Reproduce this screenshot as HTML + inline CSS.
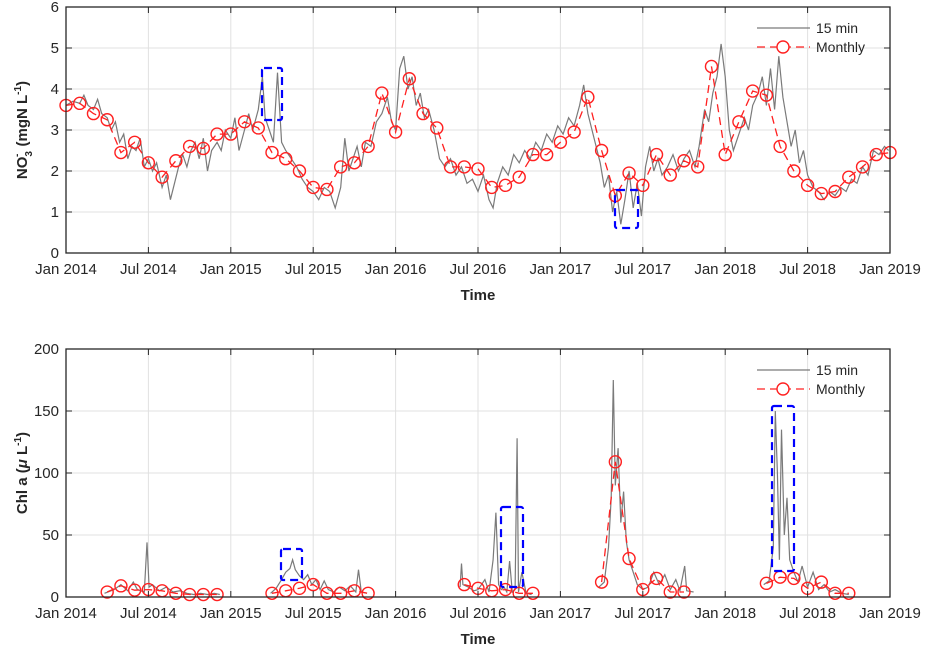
<!DOCTYPE html>
<html><head><meta charset="utf-8"><style>
body{margin:0;background:#fff;}
svg{display:block;font-family:"Liberation Sans",Arial,sans-serif;}
</style></head><body>
<svg id="fig" width="928" height="647" xmlns="http://www.w3.org/2000/svg"></svg>
<script>
// ---- data ----
const xTickLabels = ["Jan 2014","Jul 2014","Jan 2015","Jul 2015","Jan 2016","Jul 2016","Jan 2017","Jul 2017","Jan 2018","Jul 2018","Jan 2019"];
const xTickMonths = [0,6,12,18,24,30,36,42,48,54,60];
const no3Ticks = [0,1,2,3,4,5,6];
const chlTicks = [0,50,100,150,200];
// NO3 monthly, month index 0..60
const no3Monthly = [3.6,3.65,3.4,3.25,2.45,2.7,2.2,1.85,2.25,2.6,2.55,2.9,2.9,3.2,3.05,2.45,2.3,2.0,1.6,1.55,2.1,2.2,2.6,3.9,2.95,4.25,3.4,3.05,2.1,2.1,2.05,1.6,1.65,1.85,2.4,2.4,2.7,2.95,3.8,2.5,1.4,1.95,1.65,2.4,1.9,2.25,2.1,4.55,2.4,3.2,3.95,3.85,2.6,2.0,1.65,1.45,1.5,1.85,2.1,2.4,2.45];
// NO3 15-min (month, value) samples
const no3HfMonths = [0,0.5,1,1.3,1.6,2,2.3,2.6,3,3.3,3.6,3.9,4.2,4.5,4.8,5.1,5.4,5.7,6,6.3,6.6,7,7.3,7.6,7.9,8.2,8.5,8.8,9.1,9.4,9.7,10,10.3,10.6,11,11.3,11.6,12,12.3,12.6,13,13.3,13.6,14,14.3,14.5,14.8,15.1,15.4,15.7,16,16.4,16.8,17.2,17.6,18,18.4,18.8,19.2,19.6,20,20.3,20.6,20.9,21.2,21.5,21.8,22.2,22.6,23,23.4,23.7,24,24.3,24.6,24.9,25.2,25.5,25.8,26.1,26.4,26.8,27.2,27.6,28,28.4,28.8,29.2,29.6,30,30.4,30.8,31.1,31.4,31.8,32.2,32.6,33,33.4,33.8,34.2,34.6,35,35.4,35.8,36.2,36.6,37,37.4,37.7,38,38.3,38.6,38.9,39.2,39.5,39.8,40.1,40.4,40.7,41,41.3,41.6,41.9,42.2,42.5,42.8,43.1,43.4,43.8,44.2,44.6,45,45.4,45.8,46.1,46.5,46.8,47.1,47.4,47.7,48,48.3,48.6,49,49.4,49.7,50,50.4,50.7,51,51.3,51.6,51.9,52.2,52.5,52.8,53.1,53.4,53.7,54,54.4,54.8,55.2,55.6,56,56.4,56.8,57.2,57.6,58,58.4,58.8,59.2,59.6,59.9];
const no3HfValues = [3.6,3.7,3.65,3.85,3.6,3.5,3.75,3.4,3.3,3.0,3.2,2.7,2.9,2.3,2.6,2.5,2.8,2.1,2.3,2.0,2.2,1.6,1.9,1.3,1.7,2.1,2.4,2.1,2.5,2.7,2.3,2.8,2.0,2.5,2.7,2.5,3.0,2.8,3.3,2.5,3.0,3.4,3.0,3.5,4.3,3.3,3.0,2.7,4.4,2.7,2.5,2.3,2.1,1.8,1.6,1.5,1.3,1.6,1.5,1.1,1.6,2.8,2.0,2.3,2.6,2.1,2.7,2.6,3.2,3.4,3.8,3.2,3.0,4.5,4.8,4.0,4.3,3.6,3.9,3.3,3.5,3.0,2.3,2.1,2.3,1.9,2.1,1.7,1.8,1.5,1.9,1.3,1.1,1.7,2.1,1.9,2.4,2.2,2.5,2.3,2.7,2.5,2.9,2.7,3.1,2.9,3.3,3.1,3.6,4.1,3.4,3.0,2.6,2.2,1.6,1.9,1.0,1.5,0.7,1.3,2.0,1.1,1.7,0.9,2.1,2.6,2.0,2.3,1.9,2.1,2.4,2.0,2.3,2.5,2.1,2.6,3.5,3.2,3.9,4.3,5.1,4.3,3.0,2.5,2.9,3.3,3.0,3.6,3.9,4.3,3.6,4.5,3.5,4.8,3.8,3.2,2.6,3.0,2.2,2.5,1.9,1.6,1.5,1.3,1.5,1.4,1.6,1.5,1.8,1.7,2.1,1.9,2.5,2.4,2.6,2.5];
// Chl a monthly
const chlMonthlyMonths = [3,4,5,6,7,8,9,10,11,15,16,17,18,19,20,21,22,29,30,31,32,33,34,39,40,41,42,43,44,45,51,52,53,54,55,56,57];
const chlMonthlyValues = [4,9,5.5,6,5,3,2,2,2,3,5,7,10,3,3,5,3,10,7,5,6,3,3,12,109,31,6,15,4,4,11,16,15,7,12,3,3];
// Chl a 15-min, null = gap
const chlHfMonths = [2.8,3.5,4,4.5,4.9,5.2,5.7,5.9,6.05,6.3,6.8,7.3,7.8,8.3,8.8,9.3,9.8,10.3,10.8,11.2,null,14.9,15.3,15.7,16.0,16.3,16.5,16.7,17,17.3,17.6,17.9,18.2,18.5,18.8,19.1,19.5,19.9,20.3,20.7,21.1,21.3,21.5,21.9,null,28.7,28.8,28.9,29.3,29.7,30,30.5,30.8,31.1,31.3,31.5,31.7,31.9,32.1,32.3,32.5,32.7,32.85,32.95,33.2,33.5,33.9,null,38.8,39.2,39.5,39.7,39.85,40.0,40.2,40.4,40.6,40.8,41,41.3,41.6,42,42.4,42.8,43.2,43.6,44,44.4,44.7,45.05,45.2,45.7,null,50.8,51.2,51.5,51.65,51.8,51.95,52.1,52.3,52.5,52.7,53,53.3,53.6,54,54.4,54.8,55.2,55.6,56,56.5,57];
const chlHfValues = [3,6,10,5,12,6,4,44,8,10,5,8,4,5,3,2,3,2,3,2,null,3,7,14,20,23,30,22,17,14,18,10,14,6,13,6,4,8,5,9,4,22,4,3,null,8,27,10,8,5,6,14,4,30,68,10,6,8,4,29,4,6,128,4,20,3,2,null,8,12,40,80,175,90,120,60,85,45,30,20,10,6,8,20,10,18,6,14,5,25,5,4,null,10,13,40,150,100,30,135,50,80,30,20,12,25,8,20,6,10,4,6,3,2];

// ---- drawing ----
const NS="http://www.w3.org/2000/svg";
const svg=document.getElementById('fig');
function mk(tag,attrs,parent){const e=document.createElementNS(NS,tag);for(const k in attrs)e.setAttribute(k,attrs[k]);(parent||svg).appendChild(e);return e;}
const X0=66,X1=890;
const xScale=m=>X0+(X1-X0)*m/60;

function panel(cfg){
  const g=mk('g',{});
  
  
  const y=v=>cfg.yB-(cfg.yB-cfg.yT)*(v-cfg.ymin)/(cfg.ymax-cfg.ymin);
  xTickMonths.forEach(m=>{const l=mk('line',{x1:xScale(m),x2:xScale(m),y1:cfg.yT,y2:cfg.yB,stroke:'#e1e1e1','stroke-width':1},g);});
  cfg.ticks.forEach(v=>{const l=mk('line',{x1:X0,x2:X1,y1:y(v),y2:y(v),stroke:'#e1e1e1','stroke-width':1},g);});
  let d='',pen=false;
  cfg.hfM.forEach((m,i)=>{const v=cfg.hfV[i];if(m===null||v===null){pen=false;return;}d+=(pen?'L':'M')+xScale(m).toFixed(1)+' '+y(v).toFixed(1)+' ';pen=true;});
  const hf=mk('path',{d:d,fill:'none',stroke:'#7a7a7a','stroke-width':1.2},g);
  
  let d2='';cfg.moM.forEach((m,i)=>{const brk=i===0||(m-cfg.moM[i-1])>1.5;d2+=(brk?'M':'L')+xScale(m).toFixed(1)+' '+y(cfg.moV[i]).toFixed(1)+' ';});
  const ml=mk('path',{d:d2,fill:'none',stroke:'#ff2020','stroke-width':1.3,'stroke-dasharray':'8,5'},g);
  cfg.moM.forEach((m,i)=>{const c=mk('circle',{cx:xScale(m),cy:y(cfg.moV[i]),r:6,fill:'none',stroke:'#ff2020','stroke-width':1.4},g);});
  cfg.boxes.forEach(b=>{const r=mk('rect',{x:b[0],y:b[1],width:b[2],height:b[3],fill:'none',stroke:'#0000ff','stroke-width':2.2,'stroke-dasharray':'8,5',rx:2},g);});
  const fr=mk('rect',{x:X0,y:cfg.yT,width:X1-X0,height:cfg.yB-cfg.yT,fill:'none',stroke:'#262626','stroke-width':1.3},g);
  
  xTickMonths.forEach((m,i)=>{
    mk('line',{x1:xScale(m),x2:xScale(m),y1:cfg.yB,y2:cfg.yB-6,stroke:'#262626'},g);
    mk('line',{x1:xScale(m),x2:xScale(m),y1:cfg.yT,y2:cfg.yT+6,stroke:'#262626'},g);
    const t=mk('text',{x:xScale(m),y:cfg.yB+21,'text-anchor':'middle','font-size':15,fill:'#262626'},g);
    t.textContent=xTickLabels[i];
    
  });
  cfg.ticks.forEach(v=>{
    mk('line',{x1:X0,x2:X0+6,y1:y(v),y2:y(v),stroke:'#262626'},g);
    mk('line',{x1:X1,x2:X1-6,y1:y(v),y2:y(v),stroke:'#262626'},g);
    const t=mk('text',{x:X0-7,y:y(v)+5,'text-anchor':'end','font-size':15,fill:'#262626'},g);
    t.textContent=v;
    
  });
  const xt=mk('text',{x:478,y:cfg.yB+47,'text-anchor':'middle','font-size':15,'font-weight':'bold',fill:'#262626'},g);
  xt.textContent='Time';
  const ly=cfg.yT+21;
  const lg=mk('g',{},g);
  mk('line',{x1:757,x2:810,y1:ly,y2:ly,stroke:'#7a7a7a','stroke-width':1.2},lg);
  const t1=mk('text',{x:816,y:ly+5,'font-size':14,fill:'#262626'},lg);t1.textContent='15 min';
  mk('line',{x1:757,x2:810,y1:ly+19,y2:ly+19,stroke:'#ff2020','stroke-width':1.3,'stroke-dasharray':'8,5'},lg);
  mk('circle',{cx:783,cy:ly+19,r:6,fill:'#fff',stroke:'#ff2020','stroke-width':1.4},lg);
  const t2=mk('text',{x:816,y:ly+24,'font-size':14,fill:'#262626'},lg);t2.textContent='Monthly';
  return g;
}

panel({name:'no3-panel',yT:7,yB:253,ymin:0,ymax:6,ticks:no3Ticks,hfM:no3HfMonths,hfV:no3HfValues,
  moM:no3Monthly.map((v,i)=>i),moV:no3Monthly,
  boxes:[[262,68,20,52],[615,190,23,38]]});
panel({name:'chl-panel',yT:349,yB:597,ymin:0,ymax:200,ticks:chlTicks,hfM:chlHfMonths,hfV:chlHfValues,
  moM:chlMonthlyMonths,moV:chlMonthlyValues,
  boxes:[[281,549,21,31],[501,507,22,80],[772,406,22,165]]});

const y1=mk('text',{transform:'translate(27,130) rotate(-90)','text-anchor':'middle','font-size':15,'font-weight':'bold',fill:'#262626'});

y1.innerHTML='NO<tspan font-size="10" dy="5">3</tspan><tspan font-size="10" dy="-12" dx="-6">-</tspan><tspan dy="7" dx="3"> (mgN L</tspan><tspan font-size="10" dy="-6">-1</tspan><tspan dy="6">)</tspan>';
const y2=mk('text',{transform:'translate(27,473) rotate(-90)','text-anchor':'middle','font-size':15,'font-weight':'bold',fill:'#262626'});

y2.innerHTML='Chl a (<tspan font-style="italic">μ</tspan> L<tspan font-size="10" dy="-6">-1</tspan><tspan dy="6">)</tspan>';
</script>
</body></html>
